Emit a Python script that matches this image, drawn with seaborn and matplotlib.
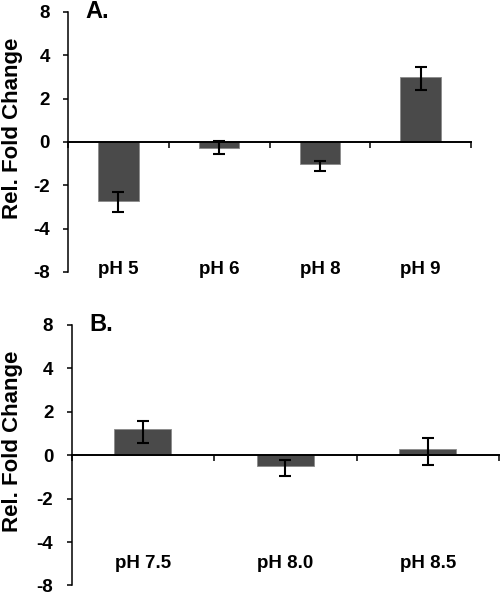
import matplotlib
matplotlib.use("Agg")
import matplotlib.pyplot as plt
import numpy as np
import pandas as pd
import seaborn as sns

# panel A
cats_a = ['pH 5', 'pH 6', 'pH 8', 'pH 9']
vals_a = [-2.72, -0.26, -1.03, 2.99]
lo_a = [-3.25, -0.57, -1.34, 2.38]
hi_a = [-2.33, 0.04, -0.90, 3.46]

# panel B
cats_b = ['pH 7.5', 'pH 8.0', 'pH 8.5']
vals_b = [1.19, -0.49, 0.28]
lo_b = [0.57, -0.95, -0.44]
hi_b = [1.58, -0.20, 0.81]

yticks = [-6, -4, -2, 0, 2, 4, 6]
ytick_labels = ['-8', '-4', '-2', '0', '2', '4', '8']

sns.set_style('ticks')
plt.rcParams['font.family'] = ['Liberation Sans', 'DejaVu Sans']
plt.rcParams['font.weight'] = 'bold'
for key in ['text.color', 'axes.labelcolor', 'xtick.color', 'ytick.color',
            'axes.edgecolor']:
    plt.rcParams[key] = 'black'

bar_color = '#4a4a4a'

fig = plt.figure(figsize=(5.0, 5.95), dpi=100)
ax_a = fig.add_axes([0.136, 0.543, 0.806, 0.437])
ax_b = fig.add_axes([0.143, 0.016, 0.855, 0.438])


def draw_panel(ax, cats, vals, lo, hi, letter, label_pad, ylabel_x):
    df = pd.DataFrame({'cat': cats, 'val': vals})
    sns.barplot(data=df, x='cat', y='val', ax=ax, color=bar_color,
                saturation=1, width=0.4, errorbar=None,
                edgecolor='#8a8a8a', linewidth=0.6)
    vals = np.array(vals)
    yerr = np.vstack([vals - np.array(lo), np.array(hi) - vals])
    ax.errorbar(np.arange(len(cats)), vals, yerr=yerr, fmt='none',
                ecolor='black', elinewidth=1.5, capsize=4.5, capthick=1.5)

    n = len(cats)
    ax.set_xlim(-0.5, n - 0.5)
    ax.set_ylim(-6, 6)
    ax.set_yticks(yticks)
    ax.set_yticklabels(ytick_labels)
    ax.set_xticks(np.arange(n))
    ax.set_xticklabels(cats)
    ax.set_xticks(np.arange(n + 1) - 0.5, minor=True)
    ax.tick_params(axis='x', which='major', length=0, pad=label_pad,
                   labelsize=13.5, labelcolor='black')
    ax.tick_params(axis='x', which='minor', length=4, width=1.1,
                   direction='out', color='black')
    ax.tick_params(axis='y', length=3.6, width=1.1, direction='out',
                   color='black', pad=9.5, labelsize=13.5, labelcolor='black')
    for t in ax.get_xticklabels() + ax.get_yticklabels():
        t.set_fontweight('bold')

    ax.spines['top'].set_visible(False)
    ax.spines['right'].set_visible(False)
    ax.spines['bottom'].set_position(('data', 0))
    ax.spines['bottom'].set_linewidth(1.4)
    ax.spines['left'].set_linewidth(1.1)
    ax.spines['bottom'].set_color('black')
    ax.spines['left'].set_color('black')

    ax.set_xlabel('')
    ax.set_ylabel('Rel. Fold Change', fontsize=16, fontweight='bold',
                  color='black')
    ax.yaxis.set_label_coords(ylabel_x, 0.553)
    ax.text(0.042, 1.0, letter, transform=ax.transAxes, fontsize=17,
            fontweight='bold', va='center', ha='left', color='black')
    ax.set_facecolor('white')


draw_panel(ax_a, cats_a, vals_a, lo_a, hi_a, 'A.', 86, -0.112)
draw_panel(ax_b, cats_b, vals_b, lo_b, hi_b, 'B.', 72, -0.114)

fig.savefig('out.png', dpi=100, facecolor='white')
